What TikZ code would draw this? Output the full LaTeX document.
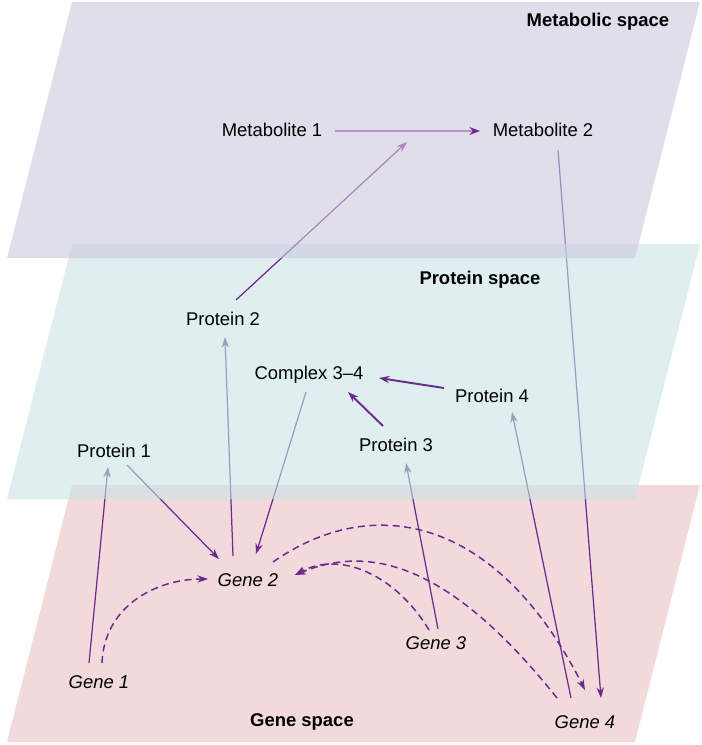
\documentclass[tikz,border=0pt]{standalone}
\usepackage{fontspec}
\setmainfont{Liberation Sans}
\usetikzlibrary{arrows.meta,calc}

\definecolor{genepink}{RGB}{242,217,220}
\definecolor{protteal}{RGB}{202,227,228}
\definecolor{metapurple}{RGB}{205,200,223}
\definecolor{linkpurple}{RGB}{108,42,142}
\definecolor{metalink}{RGB}{180,146,206}

\pgfdeclarelayer{background}
\pgfdeclarelayer{genelines}
\pgfdeclarelayer{proteinplane}
\pgfdeclarelayer{proteinlines}
\pgfdeclarelayer{metaplane}
\pgfsetlayers{background,genelines,proteinplane,proteinlines,metaplane,main}

\begin{document}
\begin{tikzpicture}[
    x=0.02cm, y=-0.02cm,
    every node/.style={font=\fontsize{10.5}{12}\selectfont, inner sep=1pt},
    genelabel/.style={font=\fontsize{10.5}{12}\selectfont\itshape},
    spacelabel/.style={font=\fontsize{10.5}{12}\selectfont\bfseries},
    planefill/.style={fill opacity=0.6},
    solidlink/.style={linkpurple, line width=0.7pt, -{Stealth[length=6pt,width=4.2pt]}},
    dashlink/.style={solidlink, line width=0.85pt, dash pattern=on 4pt off 2.6pt},
    bindlink/.style={solidlink, line width=1.1pt}
]
    \useasboundingbox (0,0) rectangle (701,745);

    % planes
    \begin{pgfonlayer}{background}
        \fill[genepink] (72,485) -- (700,485) -- (635,742) -- (7,742) -- cycle;
    \end{pgfonlayer}
    \begin{pgfonlayer}{proteinplane}
        \fill[protteal, planefill] (72,244) -- (700,244) -- (635,499) -- (7,499) -- cycle;
    \end{pgfonlayer}
    \begin{pgfonlayer}{metaplane}
        \fill[metapurple, planefill] (72,2) -- (700,2) -- (635,258) -- (7,258) -- cycle;
    \end{pgfonlayer}

    \node[spacelabel] (ms) at (598,22) {Metabolic space};
    \node[spacelabel] (ps) at (480,280) {Protein space};
    \node[spacelabel] (gs) at (302,722) {Gene space};

    \node (m1) at (272,130) {Metabolite 1};
    \node (m2) at (543,130) {Metabolite 2};
    \coordinate (cat) at (407,142);

    \node (p2) at (223,319) {Protein 2};
    \node (cx) at (309,375) {Complex 3--4};
    \node (p4) at (492,396) {Protein 4};
    \node (p1) at (114,451) {Protein 1};
    \node (p3) at (396,445) {Protein 3};

    \node[genelabel] (g1) at (99,682) {Gene 1};
    \node[genelabel] (g2) at (248,580) {Gene 2};
    \node[genelabel] (g3) at (436,643) {Gene 3};
    \node[genelabel] (g4) at (585,722) {Gene 4};

    \draw[metalink, line width=1.3pt, -{Stealth[length=6pt,width=4.5pt,color=linkpurple]}]
        ($(m1)+(63,1)$) -- ($(m2)+(-63,1)$);

    \begin{pgfonlayer}{proteinlines}
        \draw[solidlink] ($(p2)+(13,-19)$) -- (cat);
        \draw[bindlink] ($(p3)+(-13,-19)$) -- ($(cx)+(39,17)$);
        \draw[bindlink] ($(p4)+(-48,-8)$) -- ($(cx)+(70,3)$);
    \end{pgfonlayer}

    \begin{pgfonlayer}{genelines}
        \draw[solidlink] ($(g1)+(-10,-19)$) -- ($(p1)+(-6,16)$);
        \draw[solidlink] ($(p1)+(13,14)$) -- ($(g2)+(-29,-21)$);
        \draw[solidlink] ($(g2)+(-15,-24)$) -- ($(p2)+(2,18)$);
        \draw[solidlink] ($(cx)+(-3,17)$) -- ($(g2)+(8,-26)$);
        \draw[solidlink] ($(g3)+(2,-14)$) -- ($(p3)+(10,18)$);
        \draw[solidlink] ($(g4)+(-14,-24)$) -- ($(p4)+(20,16)$);
        \draw[solidlink] ($(m2)+(15,20)$) -- ($(g4)+(16,-24)$);

        \draw[dashlink] ($(g1)+(3,-19)$) .. controls (104,607) and (155,579) .. ($(g2)+(-40,-1)$);
        \draw[dashlink] ($(g2)+(25,-18)$) .. controls (373,492) and (497,516) .. ($(g4)+(0,-32)$);
        \draw[dashlink] ($(g3)+(-7,-13)$) .. controls (396,575) and (340,550) .. ($(g2)+(47,-5)$);
        \draw[dashlink] ($(g4)+(-28,-24)$) .. controls (447,560) and (367,545) .. ($(g2)+(47,-5)$);
    \end{pgfonlayer}
\end{tikzpicture}
\end{document}
